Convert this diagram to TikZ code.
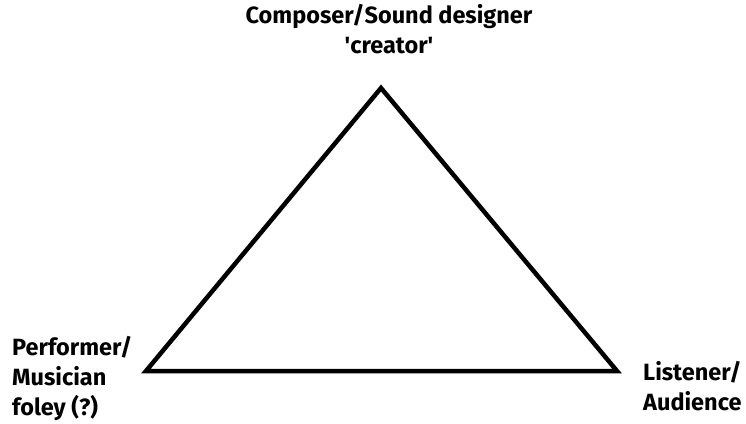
\documentclass[tikz,border=0pt]{standalone}
\usepackage{fontspec}
\setmainfont{Fira Sans}
\begin{document}
\begin{tikzpicture}[x=1pt,y=-1pt,
  lbl/.style={inner sep=0pt,font=\fontsize{23.5}{30}\selectfont\bfseries},
  edge/.style={line width=4.5pt,line join=miter,black}]
\useasboundingbox (0,0) rectangle (746,423);
\coordinate (top) at (381,88);
\coordinate (bl) at (146,371);
\coordinate (br) at (617,371);
\draw[edge] (top) -- (br) -- (bl) -- cycle;
\node[lbl,align=center,anchor=north] (creator) at (389,4) {Composer/Sound designer\\\textquotesingle creator\textquotesingle};
\node[lbl,align=left,anchor=north west] (performer) at (12,336) {Performer/\\Musician\\foley (?)};
\node[lbl,align=left,anchor=north west] (listener) at (643,361) {Listener/\\Audience};
\end{tikzpicture}
\end{document}
